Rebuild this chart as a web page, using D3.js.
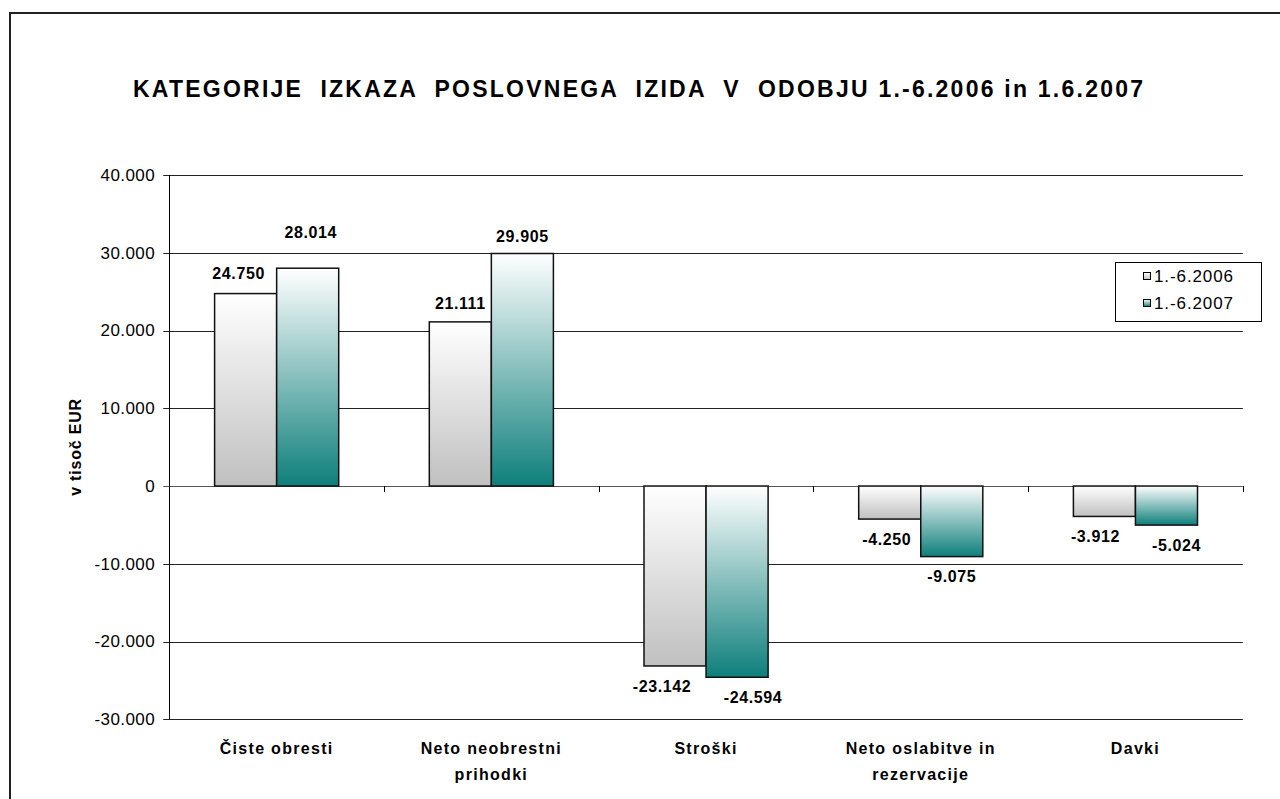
<!DOCTYPE html>
<html lang="sl">
<head>
<meta charset="utf-8">
<title>Kategorije izkaza poslovnega izida</title>
<script src="https://cdn.jsdelivr.net/npm/d3@7"></script>
<style>
  body { margin: 0; background: #fff; }
  svg { display: block; font-family: "Liberation Sans", Arial, sans-serif; }
</style>
</head>
<body>
<svg id="chart" width="1280" height="799"></svg>
<script>
// podatki (v tisoč EUR)
const categories = [["Čiste obresti"], ["Neto neobrestni", "prihodki"], ["Stroški"], ["Neto oslabitve in", "rezervacije"], ["Davki"]];
const seriesNames = ["1.-6.2006", "1.-6.2007"];
const values2006 = [24750, 21111, -23142, -4250, -3912];
const values2007 = [28014, 29905, -24594, -9075, -5024];
const yTicks = [-30000, -20000, -10000, 0, 10000, 20000, 30000, 40000];

// ročni zamiki oznak (kot v izvirniku, premaknjene oznake)
const labelNudge = [
  [[-7, -2], [0, 0], [-13, 0], [-3, 0], [-9, 0]],
  [[3, -18], [0, 1], [16, 0], [0, 0], [10, 0]]
];

const colors = ["#c0c0c0", "#0e7f7b"];

const svg = d3.select("#chart");
const plotL = 169.3, plotR = 1242.8, plotT = 175, plotB = 719.3;

const loc = d3.formatLocale({decimal: ",", thousands: ".", grouping: [3], currency: ["", " €"], minus: "-"});
const fmt = loc.format(",d");

const x0 = d3.scaleBand().domain(d3.range(categories.length)).range([plotL, plotR]).padding(0);
const x1 = d3.scaleBand().domain(d3.range(seriesNames.length)).range([0, x0.bandwidth()]).paddingInner(0).paddingOuter(0.73);
const y = d3.scaleLinear().domain([-30000, 40000]).range([plotB, plotT]);

// gradienti
const defs = svg.append("defs");
colors.forEach(function(c, i) {
  const g = defs.append("linearGradient").attr("id", "grad" + i)
    .attr("x1", 0).attr("y1", 0).attr("x2", 0).attr("y2", 1);
  g.append("stop").attr("offset", "0%").attr("stop-color", "#ffffff");
  g.append("stop").attr("offset", "100%").attr("stop-color", c);
});

// okvir
svg.append("rect").attr("x", 10).attr("y", 13).attr("width", 1300).attr("height", 820)
  .attr("fill", "none").attr("stroke", "#222").attr("stroke-width", 2);

// naslov
svg.append("text")
  .attr("x", 133).attr("y", 97)
  .attr("font-size", 23).attr("font-weight", "bold")
  .attr("textLength", 1010).attr("lengthAdjust", "spacing")
  .style("white-space", "pre")
  .text("KATEGORIJE  IZKAZA  POSLOVNEGA  IZIDA  V  ODOBJU 1.-6.2006 in 1.6.2007");

// mreža
svg.append("g").selectAll("line").data(yTicks).enter().append("line")
  .attr("x1", plotL - 6).attr("x2", plotR)
  .attr("y1", function(d) { return Math.round(y(d)) + 0.5; })
  .attr("y2", function(d) { return Math.round(y(d)) + 0.5; })
  .attr("stroke", function(d) { return d === 0 ? "#555" : "#222"; })
  .attr("stroke-width", 1);

// os y
svg.append("line").attr("x1", Math.round(plotL) + 0.5).attr("x2", Math.round(plotL) + 0.5)
  .attr("y1", plotT).attr("y2", plotB).attr("stroke", "#000");

svg.append("g").selectAll("text").data(yTicks).enter().append("text")
  .attr("x", 155).attr("y", function(d) { return y(d); })
  .attr("dy", "0.35em").attr("text-anchor", "end")
  .attr("font-size", 17).attr("letter-spacing", 0.4)
  .text(function(d) { return fmt(d); });

// oznake na osi x
svg.append("g").selectAll("line").data(d3.range(1, categories.length + 1)).enter().append("line")
  .attr("x1", function(i) { return Math.round(plotL + i * x0.bandwidth()) + 0.5; })
  .attr("x2", function(i) { return Math.round(plotL + i * x0.bandwidth()) + 0.5; })
  .attr("y1", y(0)).attr("y2", y(0) + 6)
  .attr("stroke", "#000");

// naslov osi y
svg.append("text")
  .attr("transform", "translate(81,447) rotate(-90)")
  .attr("text-anchor", "middle")
  .attr("font-size", 16).attr("font-weight", "bold").attr("letter-spacing", 0.8)
  .text("v tisoč EUR");

// stolpci
const allSeries = [values2006, values2007];
allSeries.forEach(function(vals, s) {
  const g = svg.append("g");
  g.selectAll("rect").data(vals).enter().append("rect")
    .attr("x", function(d, i) { return x0(i) + x1(s); })
    .attr("width", x1.bandwidth())
    .attr("y", function(d) { return y(Math.max(0, d)); })
    .attr("height", function(d) { return Math.abs(y(d) - y(0)); })
    .attr("fill", "url(#grad" + s + ")")
    .attr("stroke", "#111").attr("stroke-width", 1.5);

  g.selectAll("text").data(vals).enter().append("text")
    .attr("x", function(d, i) { return x0(i) + x1(s) + x1.bandwidth() / 2 + labelNudge[s][i][0]; })
    .attr("y", function(d, i) { return (d >= 0 ? y(d) - 18 : y(d) + 20) + labelNudge[s][i][1]; })
    .attr("dy", "0.35em").attr("text-anchor", "middle")
    .attr("font-size", 16).attr("font-weight", "bold").attr("letter-spacing", 0.6)
    .text(function(d) { return fmt(d); });
});

// kategorije
const cat = svg.append("g").selectAll("text").data(categories).enter().append("text")
  .attr("x", function(d, i) { return x0(i) + x0.bandwidth() / 2; })
  .attr("y", 754)
  .attr("text-anchor", "middle")
  .attr("font-size", 16).attr("font-weight", "bold").attr("letter-spacing", 1.3);
cat.selectAll("tspan").data(function(d) { return d; }).enter().append("tspan")
  .attr("x", function() { return d3.select(this.parentNode).attr("x"); })
  .attr("dy", function(d, i) { return i === 0 ? 0 : 26; })
  .text(function(d) { return d; });

// legenda
const lg = svg.append("g");
lg.append("rect").attr("x", 1115.5).attr("y", 262.5).attr("width", 146).attr("height", 59)
  .attr("fill", "#fff").attr("stroke", "#000");
seriesNames.forEach(function(name, i) {
  const cy = 276 + i * 27;
  lg.append("rect").attr("x", 1143.5).attr("y", cy - 3.5).attr("width", 7).attr("height", 7)
    .attr("fill", "url(#grad" + i + ")").attr("stroke", "#000");
  lg.append("text").attr("x", 1154).attr("y", cy).attr("dy", "0.35em")
    .attr("font-size", 17).attr("letter-spacing", 0.9)
    .text(name);
});
</script>
</body>
</html>
